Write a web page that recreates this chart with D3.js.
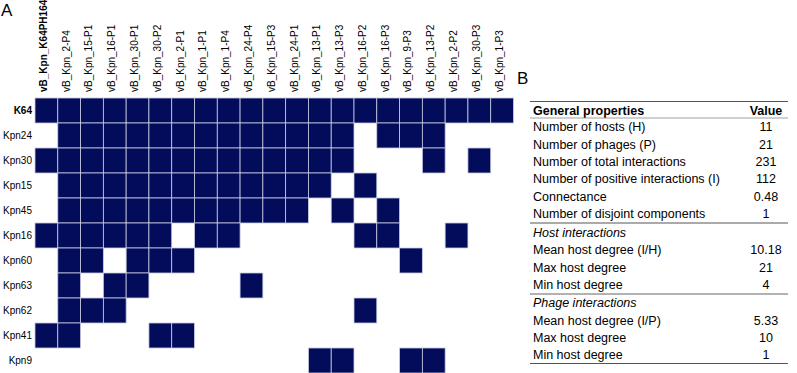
<!DOCTYPE html>
<html>
<head>
<meta charset="utf-8">
<script src="https://cdn.jsdelivr.net/npm/d3@7"></script>
<style>
  html, body { margin: 0; padding: 0; background: #fff; }
  svg { display: block; }
</style>
</head>
<body>
<div id="chart"></div>
<script>
(function () {

  'use strict';

  const FONT_FAMILY = 'Liberation Sans, Arial, Helvetica, sans-serif';
  const CELL_FILL = '#020c5b';
  const GRID_STROKE = '#c9cce2';

  // Phages (columns) and hosts (rows).
  const phages = [
    'vB_Kpn_K64PH164', 'vB_Kpn_2-P4', 'vB_Kpn_15-P1', 'vB_Kpn_16-P1', 'vB_Kpn_30-P1',
    'vB_Kpn_30-P2', 'vB_Kpn_2-P1', 'vB_Kpn_1-P1', 'vB_Kpn_1-P4', 'vB_Kpn_24-P4',
    'vB_Kpn_15-P3', 'vB_Kpn_24-P1', 'vB_Kpn_13-P1', 'vB_Kpn_13-P3', 'vB_Kpn_16-P2',
    'vB_Kpn_16-P3', 'vB_Kpn_9-P3', 'vB_Kpn_13-P2', 'vB_Kpn_2-P2', 'vB_Kpn_30-P3',
    'vB_Kpn_1-P3'
  ];
  const hosts = ['K64', 'Kpn24', 'Kpn30', 'Kpn15', 'Kpn45', 'Kpn16',
    'Kpn60', 'Kpn63', 'Kpn62', 'Kpn41', 'Kpn9'];

  // Phage indices that lyse each host (same order as hosts).
  const hits = [
    [0, 1, 2, 3, 4, 5, 6, 7, 8, 9, 10, 11, 12, 13, 14, 15, 16, 17, 18, 19, 20],
    [1, 2, 3, 4, 5, 6, 7, 8, 9, 10, 11, 12, 13, 15, 16, 17],
    [0, 1, 2, 3, 4, 5, 6, 7, 8, 9, 10, 11, 12, 13, 17, 19],
    [1, 2, 3, 4, 5, 6, 7, 8, 9, 10, 11, 12, 14],
    [1, 2, 3, 4, 5, 6, 7, 8, 9, 10, 11, 13, 15],
    [0, 1, 2, 3, 4, 5, 7, 8, 14, 15, 18],
    [1, 2, 4, 5, 6, 16],
    [1, 3, 4, 9],
    [1, 2, 3, 14],
    [0, 1, 5, 6],
    [12, 13, 16, 17]
  ];

  // Table B.
  const propLabels = [
    'Number of hosts (H)', 'Number of phages (P)', 'Number of total interactions',
    'Number of positive interactions (I)', 'Connectance', 'Number of disjoint components'
  ];
  const propValues = ['11', '21', '231', '112', '0.48', '1'];
  const hostLabels = ['Mean host degree (I/H)', 'Max host degree', 'Min host degree'];
  const hostValues = ['10.18', '21', '4'];
  const phageLabels = ['Mean host degree (I/P)', 'Max host degree', 'Min host degree'];
  const phageValues = ['5.33', '10', '1'];

  let cells = [];
  hits.forEach(function (row, r) {
    row.forEach(function (c) {
      cells.push({host: hosts[r], phage: phages[c]});
    });
  });

  let svg = d3.select('#chart')
    .append('svg')
    .attr('width', 797)
    .attr('height', 373)
    .style('font-family', FONT_FAMILY);

  // Panel letters.
  svg.append('text').attr('x', 1).attr('y', 16)
    .style('font-size', '17px').text('A');
  svg.append('text').attr('x', 517).attr('y', 84)
    .style('font-size', '17px').text('B');

  // Heatmap scales.
  let x = d3.scaleBand().domain(phages).range([35, 513.5]).padding(0);
  let y = d3.scaleBand().domain(hosts).range([98, 373]).padding(0);

  let grid = svg.append('g');

  grid.selectAll('rect.cell')
    .data(cells)
    .enter()
    .append('rect')
    .attr('class', 'cell')
    .attr('x', function (d) { return x(d.phage); })
    .attr('y', function (d) { return y(d.host); })
    .attr('width', x.bandwidth())
    .attr('height', y.bandwidth())
    .style('fill', CELL_FILL)
    .style('stroke', GRID_STROKE)
    .style('stroke-width', 0.8);

  // Column labels (rotated).
  svg.append('g')
    .selectAll('text')
    .data(phages)
    .enter()
    .append('text')
    .attr('transform', function (d) {
      return 'translate(' + (x(d) + x.bandwidth() / 2 + 0.5) + ',92) rotate(-90)';
    })
    .style('font-size', '10px')
    .style('font-weight', function (d, i) { return i === 0 ? 'bold' : 'normal'; })
    .text(function (d) { return d; });

  // Row labels.
  svg.append('g')
    .selectAll('text')
    .data(hosts)
    .enter()
    .append('text')
    .attr('x', 32)
    .attr('y', function (d) { return y(d) + y.bandwidth() / 2 + 3.6; })
    .attr('text-anchor', 'end')
    .style('font-size', '10px')
    .style('font-weight', function (d, i) { return i === 0 ? 'bold' : 'normal'; })
    .text(function (d) { return d; });

  // Table.
  const TX0 = 530;
  const TX1 = 788;
  const TEXT_X = 533;
  const VAL_X = 766;
  const ROW_H = 17.35;
  let table = svg.append('g').style('font-size', '12.5px');

  let hline = function (yy, w, color) {
    table.append('line')
      .attr('x1', TX0).attr('x2', TX1)
      .attr('y1', yy).attr('y2', yy)
      .style('stroke', color)
      .style('stroke-width', w);
  };

  let addRows = function (labels, values, y0) {
    labels.forEach(function (lab, i) {
      let cy = y0 + i * ROW_H + 4.4;
      table.append('text').attr('x', TEXT_X).attr('y', cy).text(lab);
      table.append('text').attr('x', VAL_X).attr('y', cy)
        .attr('text-anchor', 'middle').text(values[i]);
    });
  };

  hline(101.5, 1.2, '#555');
  table.append('text').attr('x', TEXT_X).attr('y', 114.5)
    .style('font-weight', 'bold').text('General properties');
  table.append('text').attr('x', VAL_X).attr('y', 114.5)
    .attr('text-anchor', 'middle')
    .style('font-weight', 'bold').text('Value');
  hline(118, 0.8, '#888');

  addRows(propLabels, propValues, 127);
  hline(223, 2, '#aaa');

  table.append('text').attr('x', TEXT_X).attr('y', 232.5 + 4.4)
    .style('font-style', 'italic').text('Host interactions');
  addRows(hostLabels, hostValues, 232.5 + ROW_H);
  hline(294, 1, '#666');

  table.append('text').attr('x', TEXT_X).attr('y', 303 + 4.4)
    .style('font-style', 'italic').text('Phage interactions');
  addRows(phageLabels, phageValues, 303 + ROW_H);
  hline(363.5, 1.2, '#555');

}());
</script>
</body>
</html>
